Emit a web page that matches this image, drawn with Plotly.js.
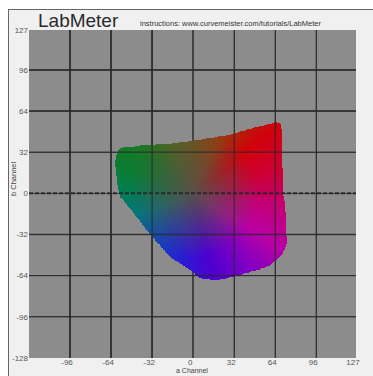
<!DOCTYPE html>
<html>
<head>
<meta charset="utf-8">
<script src="https://cdn.plot.ly/plotly-3.0.1.min.js"></script>
<style>
  html, body { margin: 0; padding: 0; background: #ffffff; width: 373px; height: 376px; overflow: hidden; }
  #frame { position: absolute; left: 8px; top: 9px; width: 365px; height: 367px; background: #f0f0f0; border-left: 1px solid #666; border-top: 1px solid #666; box-sizing: border-box; }
  #chart { position: absolute; left: 0; top: 0; width: 373px; height: 376px; }
</style>
</head>
<body>
<div id="frame"></div>
<div id="chart"></div>
<script>
// ---- data ----
const aTicks = [-128, -96, -64, -32, 0, 32, 64, 96, 127];
const bTicks = [-128, -96, -64, -32, 0, 32, 64, 96, 127];

// gamut boundary (a*, b*), clockwise from top-left
const boundaryA = [-57, -39, -13, 5, 27, 48, 64, 68.5, 69, 69, 70, 72, 73, 69, 60, 50, 31, 17, 5, -2.5, -18, -34, -47, -57, -60, -61, -60];
const boundaryB = [35, 37, 39, 41.5, 45, 51, 55, 54, 45, 26, 0, -17, -39, -48, -56, -60, -65, -68, -66, -60, -50, -32, -15, -3, 10, 24, 31];

// hue-angle colour stops (degrees in the a*/b* plane)
const hueAngles = [0, 16, 38, 48, 65, 90, 118, 142, 161, 180, 200, 238, 260, 283, 306, 328, 352, 360];
const hueR = [195, 205, 210, 190, 150, 110, 70, 25, 10, 0, 0, 20, 40, 75, 125, 185, 195, 195];
const hueG = [0, 0, 0, 20, 60, 85, 105, 120, 125, 125, 120, 60, 30, 0, 0, 0, 0, 0];
const hueB = [90, 50, 12, 10, 15, 25, 30, 40, 50, 85, 125, 195, 210, 210, 195, 165, 115, 90];
const neutralRGB = [88, 80, 72];

// ---- helpers ----
function inside(a, b) {
  let c = false;
  const n = boundaryA.length;
  for (let i = 0, j = n - 1; i < n; j = i++) {
    const ai = boundaryA[i], bi = boundaryB[i], aj = boundaryA[j], bj = boundaryB[j];
    if ((bi > b) !== (bj > b) && a < (aj - ai) * (b - bi) / (bj - bi) + ai) c = !c;
  }
  return c;
}
function hueColor(deg) {
  for (let k = 0; k < hueAngles.length - 1; k++) {
    if (deg >= hueAngles[k] && deg <= hueAngles[k + 1]) {
      const f = (deg - hueAngles[k]) / (hueAngles[k + 1] - hueAngles[k]);
      return [hueR[k] + f * (hueR[k + 1] - hueR[k]),
              hueG[k] + f * (hueG[k + 1] - hueG[k]),
              hueB[k] + f * (hueB[k + 1] - hueB[k])];
    }
  }
  return [hueR[0], hueG[0], hueB[0]];
}

// ---- build the gamut image on the a/b grid ----
const step = 0.5;
const aMin = Math.min(...boundaryA) - 1, aMax = Math.max(...boundaryA) + 1;
const bMin = Math.min(...boundaryB) - 1, bMax = Math.max(...boundaryB) + 1;
const nA = Math.ceil((aMax - aMin) / step), nB = Math.ceil((bMax - bMin) / step);
const z = [];
for (let i = 0; i < nB; i++) {
  const b = bMin + (i + 0.5) * step;
  const row = [];
  for (let j = 0; j < nA; j++) {
    const a = aMin + (j + 0.5) * step;
    if (!inside(a, b)) { row.push([0, 0, 0, 0]); continue; }
    let deg = Math.atan2(b, a) * 180 / Math.PI; if (deg < 0) deg += 360;
    const h = hueColor(deg);
    const r = Math.sqrt(a * a + b * b);
    const t = Math.min(1, r / 50);
    row.push([
      Math.round(neutralRGB[0] * (1 - t) + h[0] * t),
      Math.round(neutralRGB[1] * (1 - t) + h[1] * t),
      Math.round(neutralRGB[2] * (1 - t) + h[2] * t), 1]);
  }
  z.push(row);
}

const gamut = {
  type: 'image', colormodel: 'rgba', z: z,
  x0: aMin + step / 2, dx: step, y0: bMin + step / 2, dy: step,
  hoverinfo: 'skip'
};

// gridlines drawn above the colour region
const gridCol = 'rgba(40,40,40,0.75)';
const shapes = [];
aTicks.forEach(v => {
  if (v === aTicks[0] || v === aTicks[aTicks.length - 1] || v === 0) return;
  shapes.push({ type: 'line', xref: 'x', yref: 'paper', x0: v, x1: v, y0: 0, y1: 1, layer: 'above', line: { color: gridCol, width: 1.3 } });
});
bTicks.forEach(v => {
  if (v === bTicks[0] || v === bTicks[bTicks.length - 1]) return;
  shapes.push({ type: 'line', xref: 'paper', yref: 'y', x0: 0, x1: 1, y0: v, y1: v, layer: 'above',
    line: v === 0 ? { color: 'rgba(35,35,35,0.85)', width: 2, dash: '4px,2px' } : { color: gridCol, width: 1.3 } });
});

const tickFont = { family: 'Liberation Sans, Arial, sans-serif', size: 8, color: '#555' };
const layout = {
  width: 373, height: 376,
  margin: { l: 29, r: 17, t: 30, b: 18, pad: 0 },
  paper_bgcolor: 'rgba(0,0,0,0)',
  plot_bgcolor: '#8c8c8c',
  showlegend: false,
  title: { text: 'LabMeter', x: 38 / 373, xanchor: 'left', xref: 'container', y: 1 - 20 / 376, yref: 'container', yanchor: 'middle',
           font: { family: 'Liberation Sans, Arial, sans-serif', size: 19, color: '#2a2a2a' } },
  xaxis: {
    range: [aTicks[0], aTicks[aTicks.length - 1]],
    tickvals: aTicks.slice(1), ticktext: aTicks.slice(1).map(String),
    showgrid: true, gridcolor: 'rgba(50,50,50,0.8)', gridwidth: 1.3,
    zeroline: false, showline: false, ticks: '', tickfont: tickFont,
    ticklabelshift: -3, ticklabelstandoff: -2, fixedrange: true
  },
  yaxis: {
    range: [bTicks[0], bTicks[bTicks.length - 1]],
    tickvals: bTicks, ticktext: bTicks.map(String),
    showgrid: true, gridcolor: 'rgba(50,50,50,0.8)', gridwidth: 1.3,
    zeroline: false, showline: false, ticks: '', tickfont: tickFont,
    scaleanchor: false, fixedrange: true, autorange: false
  },
  shapes: shapes,
  annotations: [
    { text: 'instructions: www.curvemeister.com/tutorials/LabMeter', xref: 'paper', yref: 'paper',
      x: (138 - 29) / 327, y: (358 - 23) / 328, xanchor: 'left', yanchor: 'middle', showarrow: false,
      font: { family: 'Liberation Sans, Arial, sans-serif', size: 7.5, color: '#333' } },
    { text: 'b Channel', xref: 'paper', yref: 'paper', x: (13 - 29) / 327, y: (358 - 179) / 328,
      xanchor: 'center', yanchor: 'middle', textangle: -90, showarrow: false,
      font: { family: 'Liberation Sans, Arial, sans-serif', size: 7.5, color: '#444' } },
    { text: 'a Channel', xref: 'paper', yref: 'paper', x: (192 - 29) / 327, y: -(375 - 358) / 328,
      xanchor: 'center', yanchor: 'bottom', showarrow: false, borderpad: 0,
      font: { family: 'Liberation Sans, Arial, sans-serif', size: 7, color: '#444' } }
  ]
};

Plotly.newPlot('chart', [gamut], layout, { displayModeBar: false, staticPlot: true });
</script>
</body>
</html>
